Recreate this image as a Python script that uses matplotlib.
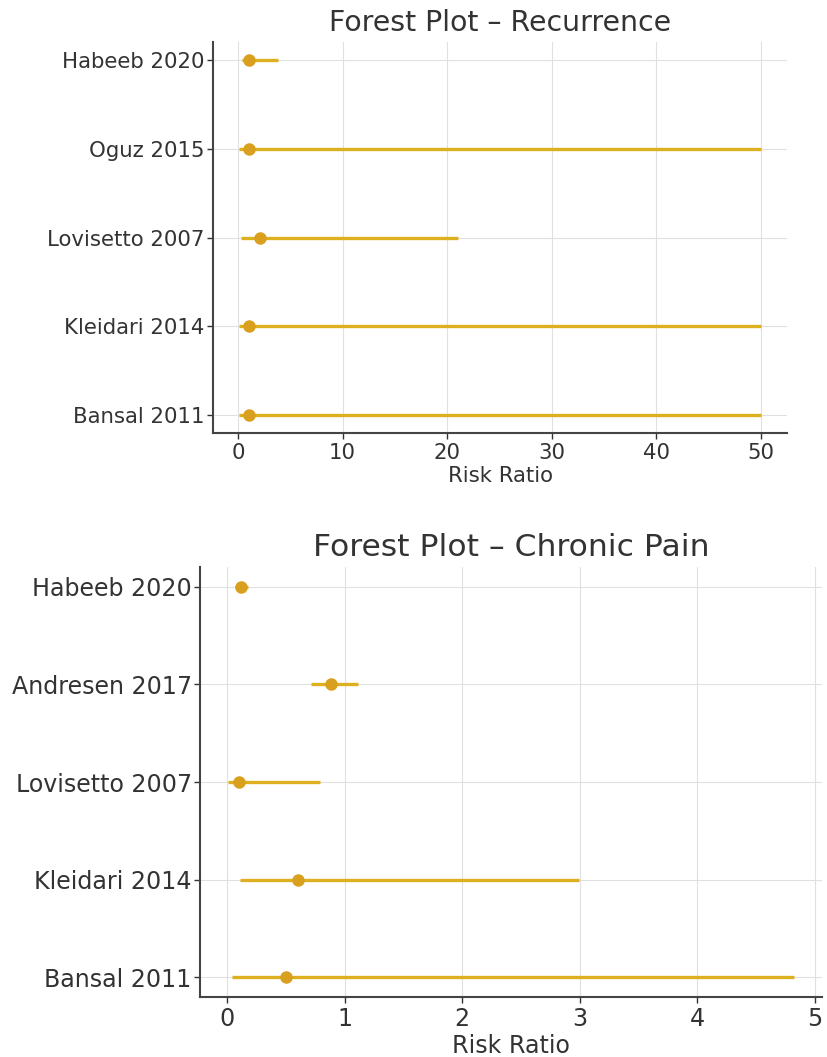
import matplotlib.pyplot as plt
import numpy as np

# Recurrence
rec_studies = ["Bansal 2011", "Kleidari 2014", "Lovisetto 2007", "Oguz 2015", "Habeeb 2020"]
rec_rr = [1.0, 1.0, 2.1, 1.0, 1.05]
rec_lo = [0.1, 0.1, 0.3, 0.1, 0.4]
rec_hi = [50.0, 50.0, 21.0, 50.0, 3.8]

# Chronic pain
pain_studies = ["Bansal 2011", "Kleidari 2014", "Lovisetto 2007", "Andresen 2017", "Habeeb 2020"]
pain_rr = [0.5, 0.6, 0.1, 0.88, 0.12]
pain_lo = [0.04, 0.11, 0.01, 0.71, 0.07]
pain_hi = [4.82, 2.99, 0.79, 1.11, 0.18]

dot_color = "#D9A020"
bar_color = "#DDB020"
txt = "#333333"

W, H = 827, 1057
fig = plt.figure(figsize=(W / 100, H / 100), dpi=100)


def forest(ax, studies, rr, lo, hi, title, fs_tick, fs_title):
    y = np.arange(len(studies))
    rr = np.array(rr)
    err = [rr - np.array(lo), np.array(hi) - rr]
    ax.errorbar(rr, y, xerr=err, fmt='o', color=dot_color, ecolor=bar_color,
                elinewidth=2.4, markersize=8, capsize=0, zorder=3)
    ax.set_yticks(y)
    ax.set_yticklabels(studies)
    ax.set_xlabel("Risk Ratio", fontsize=fs_tick, color=txt, labelpad=2)
    ax.set_title(title, fontsize=fs_title, color=txt, pad=8)
    ax.grid(True, color="#e0e0e0", linewidth=0.8)
    ax.set_axisbelow(True)
    for s in ["top", "right"]:
        ax.spines[s].set_visible(False)
    for s in ["left", "bottom"]:
        ax.spines[s].set_color("#444444")
        ax.spines[s].set_linewidth(1.5)
    ax.tick_params(labelsize=fs_tick, colors=txt, length=4, width=1)
    ax.tick_params(axis="y", pad=2)


ax1 = fig.add_axes([213 / W, 1 - 433 / H, (787 - 213) / W, (433 - 42) / H])
forest(ax1, rec_studies, rec_rr, rec_lo, rec_hi, "Forest Plot – Recurrence", 15.3, 20.4)
ax1.set_xticks([0, 10, 20, 30, 40, 50])

ax2 = fig.add_axes([200 / W, 1 - 997 / H, (822 - 200) / W, (997 - 567) / H])
forest(ax2, pain_studies, pain_rr, pain_lo, pain_hi, "Forest Plot – Chronic Pain", 17.1, 22.6)
ax2.set_xticks([0, 1, 2, 3, 4, 5])

fig.savefig("out.png", dpi=100)
